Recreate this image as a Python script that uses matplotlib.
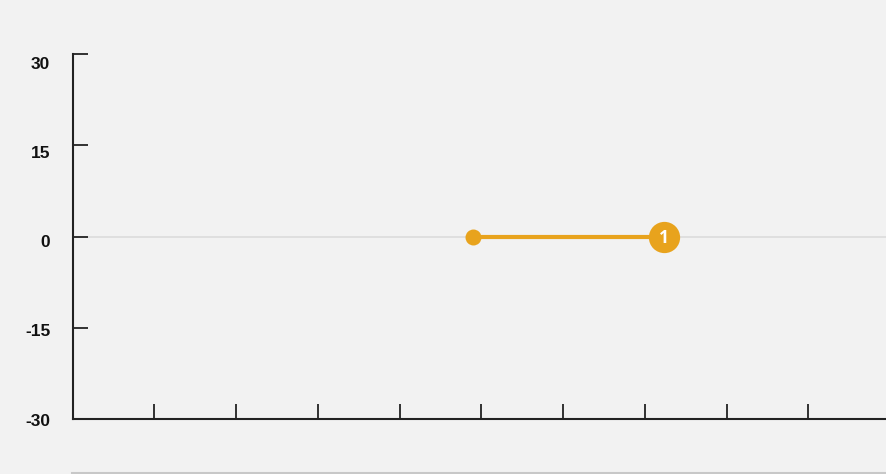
import matplotlib
matplotlib.use("Agg")
import matplotlib.pyplot as plt
from matplotlib.lines import Line2D
from matplotlib.transforms import ScaledTranslation

# Data
y_ticks = [-30, -15, 0, 15, 30]
x_ticks = [1, 2, 3, 4, 5, 6, 7, 8, 9]
seg_x = [4.9, 7.24]
seg_y = [0, 0]
end_label = "1"

ORANGE = "#E8A31D"
BG = "#F2F2F2"
AX = "#222222"

W, H = 886, 474
fig = plt.figure(figsize=(W / 100, H / 100), dpi=100, facecolor=BG)
ax = fig.add_axes([72.5 / W, 1 - 419 / H, (886 - 72.5) / W, (419 - 54) / H])
ax.set_facecolor(BG)

ax.set_xlim(0, 9.95)
ax.set_ylim(-30, 30)

for s in ["top", "right"]:
    ax.spines[s].set_visible(False)
for s in ["left", "bottom"]:
    ax.spines[s].set_color(AX)
    ax.spines[s].set_linewidth(1.5)

ax.set_yticks(y_ticks)
ax.set_yticklabels([str(v) for v in y_ticks])
ax.set_xticks(x_ticks)
ax.set_xticklabels([])
ax.tick_params(axis="both", direction="in", length=11, width=1.3, color=AX)
ax.tick_params(axis="y", pad=16, labelsize=12.5)
# labels sit slightly below their ticks, more so toward the top
offsets_px = [0.7, 2.5, 4.6, 6.6, 8.6]
for lab, off in zip(ax.get_yticklabels(), offsets_px):
    lab.set_fontweight("bold")
    lab.set_family(["Liberation Sans", "DejaVu Sans"])
    lab.set_color("#111111")
    lab.set_transform(lab.get_transform() + ScaledTranslation(0, -off / 100, fig.dpi_scale_trans))

ax.axhline(0, color="#DCDCDC", lw=1.2, zorder=1)

ax.plot(seg_x, seg_y, color=ORANGE, lw=3, solid_capstyle="butt", zorder=3)
ax.plot(seg_x[0], seg_y[0], "o", color=ORANGE, ms=11.5, mew=0, zorder=4)
ax.plot(seg_x[1], seg_y[1], "o", color=ORANGE, ms=22.5, mew=0, zorder=4)
ax.text(seg_x[1], seg_y[1] - 0.3, end_label, color="white", fontsize=12.5, fontweight="bold",
        ha="center", va="center", zorder=5, family=["Open Sans", "DejaVu Sans"])

fig.add_artist(Line2D([72 / W, 1], [1 - 472.5 / H] * 2, color="#C8C8C8", lw=1.5,
                      transform=fig.transFigure))

fig.savefig("out.png", dpi=100, facecolor=BG)
